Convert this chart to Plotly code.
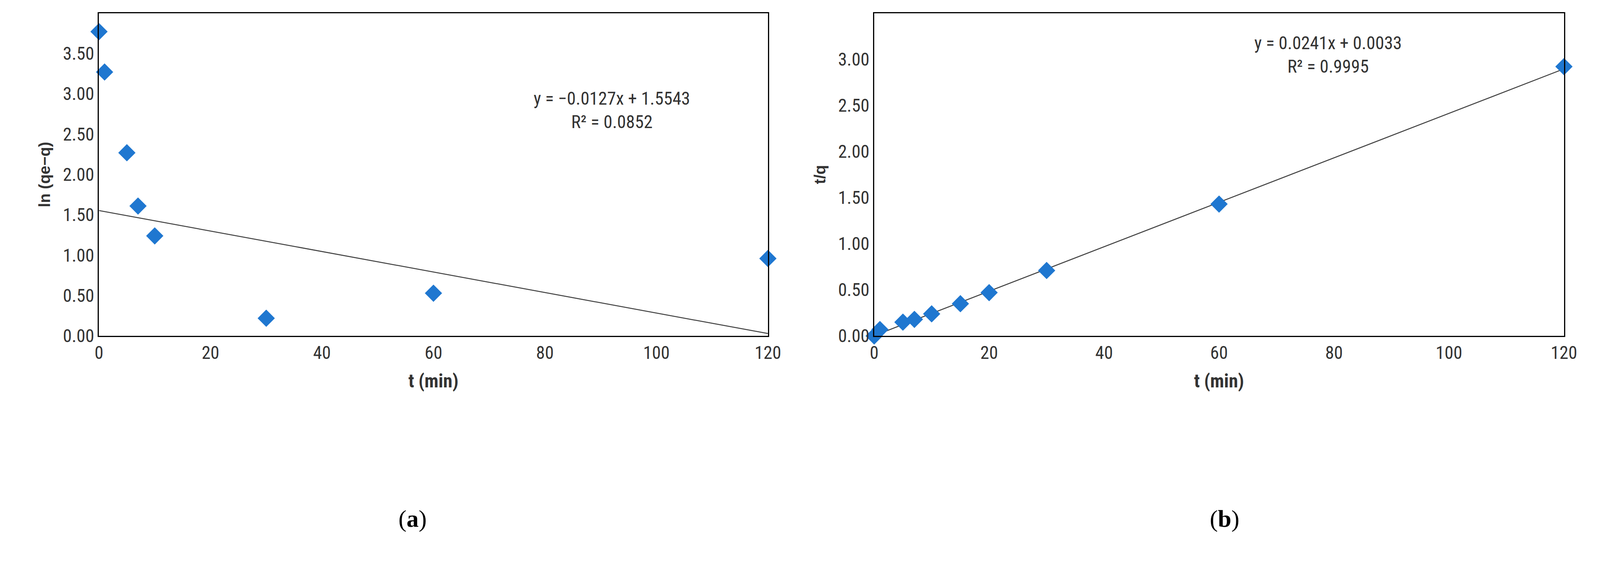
import plotly.graph_objects as go

t_a = [0, 1, 5, 7, 10, 30, 60, 120]
ln_a = [3.77, 3.27, 2.27, 1.61, 1.24, 0.22, 0.53, 0.96]
slope_a, icpt_a = -0.0127, 1.5543

t_b = [0, 1, 5, 7, 10, 15, 20, 30, 60, 120]
tq_b = [0.0, 0.07, 0.15, 0.18, 0.24, 0.35, 0.47, 0.71, 1.43, 2.92]
slope_b, icpt_b = 0.0241, 0.0033

W, H = 4185, 1498
fig = go.Figure()
font_t = "Liberation Sans Narrow, Roboto Condensed, Liberation Sans, sans-serif"
blue = "#1f77d0"

def add(xs, ys, sl, ic, xa, ya):
    fx = [0, 120]
    fig.add_trace(go.Scatter(x=fx, y=[ic + sl * v for v in fx], mode="lines",
                             line=dict(color="#404040", width=2.5), xaxis=xa, yaxis=ya, showlegend=False))
    fig.add_trace(go.Scatter(x=xs, y=ys, mode="markers",
                             marker=dict(symbol="diamond", size=34, color=blue), xaxis=xa, yaxis=ya,
                             showlegend=False, cliponaxis=False))

add(t_a, ln_a, slope_a, icpt_a, "x", "y")
add(t_b, tq_b, slope_b, icpt_b, "x2", "y2")

ax_common = dict(showline=True, linecolor="black", linewidth=3, mirror=True, showgrid=False,
                 zeroline=False, ticks="", tickfont=dict(family=font_t, size=46, color="#333"))
top, bot = 26, 868
fig.update_layout(
    width=W, height=H, plot_bgcolor="white", paper_bgcolor="white",
    margin=dict(l=0, r=0, t=0, b=0),
    xaxis=dict(domain=[237/W, 1968/W], range=[0, 120], dtick=20, anchor="y",
               title=dict(text="<b>t (min)</b>", font=dict(family=font_t, size=48, color="#333"), standoff=30), **ax_common),
    yaxis=dict(domain=[1 - bot/H, 1 - top/H], range=[0, 4], dtick=0.5, tickformat=".2f", anchor="x",
               title=dict(text="<b>ln (qe−q)</b>", font=dict(family="Liberation Sans, sans-serif", size=40, color="#333"), standoff=20), **ax_common),
    xaxis2=dict(domain=[2243/W, 4028/W], range=[0, 120], dtick=20, anchor="y2",
                title=dict(text="<b>t (min)</b>", font=dict(family=font_t, size=48, color="#333"), standoff=30), **ax_common),
    yaxis2=dict(domain=[1 - bot/H, 1 - top/H], range=[0, 3.5], dtick=0.5, tickformat=".2f", anchor="x2",
                title=dict(text="<b>t/q</b>", font=dict(family="Liberation Sans, sans-serif", size=40, color="#333"), standoff=20), **ax_common),
)
fig.add_annotation(x=92, y=2.8, xref="x", yref="y", showarrow=False,
                   text="y = −0.0127x + 1.5543<br>R² = 0.0852", font=dict(family=font_t, size=46, color="#333"))
fig.add_annotation(x=79, y=3.05, xref="x2", yref="y2", showarrow=False,
                   text="y = 0.0241x + 0.0033<br>R² = 0.9995", font=dict(family=font_t, size=46, color="#333"))
for lbl, xc in [("(<b>a</b>)", 1010/W), ("(<b>b</b>)", 3190/W)]:
    fig.add_annotation(x=xc, y=1 - 1382/H, xref="paper", yref="paper", showarrow=False,
                       text=lbl, font=dict(family="Liberation Serif, serif", size=62, color="black"))
fig.write_html("out.html")
